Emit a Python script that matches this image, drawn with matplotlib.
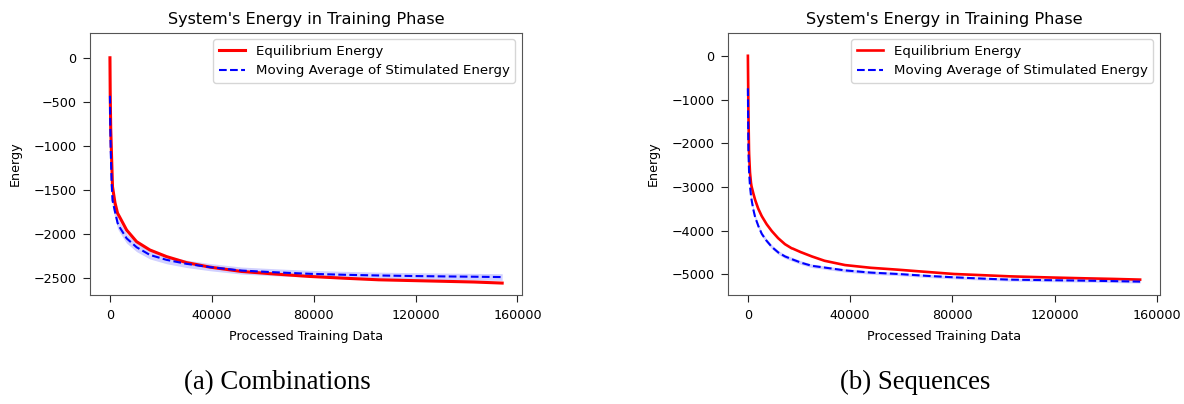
import numpy as np
import matplotlib.pyplot as plt

# values
# (a) Combinations
comb_x = [0, 100, 300, 670, 1000, 1960, 2980, 3920, 6540, 10460, 15670, 22220, 30060,
          39180, 51530, 65000, 78530, 92000, 105530, 119000, 132520, 143000, 154000]
comb_eq = [0, -400, -800, -1150, -1460, -1640, -1760, -1810, -1951, -2083, -2177, -2252, -2320,
           -2371, -2420, -2450, -2477, -2497, -2515, -2524, -2533, -2540, -2552]
comb_ma = [-431, -700, -1050, -1426, -1614, -1740, -1870, -1925, -2045, -2146, -2233, -2289, -2334,
           -2371, -2410, -2430, -2447, -2458, -2466, -2472, -2477, -2480, -2484]
comb_band = [580, 350, 200, 120, 90, 75, 65, 60, 55, 50, 46, 44, 42,
             41, 40, 40, 39, 39, 38, 38, 38, 38, 38]

# (b) Sequences
seq_x = [0, 100, 150, 200, 430, 500, 800, 820, 1210, 1400, 2000, 2110, 2780, 3000, 4000,
         4070, 5400, 5500, 7200, 7360, 9310, 9500, 11800, 11890, 14500, 17140, 17500,
         20800, 21050, 24960, 25000, 30000, 38000, 48000, 58730, 70000, 80590, 92000,
         102440, 117000, 131590, 143000, 153440]
seq_eq = [0, -600, -900, -1250, -2147, -2280, -2650, -2670, -2906, -2980, -3120, -3145, -3286,
          -3325, -3490, -3500, -3666, -3676, -3840, -3855, -4007, -4020, -4170, -4175, -4310,
          -4405, -4410, -4495, -4500, -4589, -4590, -4690, -4788, -4850, -4894, -4945, -4992,
          -5020, -5046, -5070, -5091, -5105, -5121]
seq_ma = [-744, -1500, -1850, -2147, -2600, -2700, -2960, -2983, -3200, -3280, -3480, -3513,
          -3680, -3720, -3880, -3894, -4070, -4080, -4225, -4235, -4370, -4380, -4495, -4500,
          -4590, -4652, -4660, -4733, -4738, -4804, -4805, -4845, -4910, -4960, -4992, -5035,
          -5068, -5098, -5121, -5133, -5144, -5155, -5167]
seq_band = [1000, 500, 350, 250, 130, 110, 90, 88, 75, 70, 62, 60, 56, 55, 52, 52, 50, 50,
            48, 48, 46, 46, 45, 45, 44, 43, 43, 42, 42, 41, 41, 40, 39, 38, 37, 36, 35, 35,
            34, 34, 33, 33, 33]

xticks = [0, 40000, 80000, 120000, 160000]
comb_yticks = [0, -500, -1000, -1500, -2000, -2500]
seq_yticks = [0, -1000, -2000, -3000, -4000, -5000]
captions = ['(a) Combinations', '(b) Sequences']

fs = 9.2
fig = plt.figure(figsize=(11.84, 4.04), dpi=100)
ax1 = fig.add_axes([0.0763, 0.2698, 0.3644, 0.6493])
ax2 = fig.add_axes([0.6151, 0.2698, 0.3644, 0.6493])

panels = [(ax1, comb_x, comb_eq, comb_ma, comb_band, comb_yticks, 2.2),
          (ax2, seq_x, seq_eq, seq_ma, seq_band, seq_yticks, 1.9)]

for ax, x, eq, ma, band, yt, lw in panels:
    x = np.array(x)
    ma = np.array(ma)
    band = np.array(band)
    ax.fill_between(x, ma - band, ma + band, color='blue', alpha=0.18, linewidth=0)
    ax.plot(x, eq, color='red', linewidth=lw, label='Equilibrium Energy')
    ax.plot(x, ma, color='blue', linestyle='--', linewidth=1.5,
            label='Moving Average of Stimulated Energy')
    ax.set_xticks(xticks)
    ax.set_yticks(yt)
    ax.tick_params(labelsize=fs, length=5, pad=5, color='#222222')
    ax.set_title("System's Energy in Training Phase", fontsize=11.6)
    ax.set_xlabel('Processed Training Data', fontsize=fs)
    ax.set_ylabel('Energy', fontsize=fs)
    ax.yaxis.set_label_coords(-0.158, 0.5)
    ax.xaxis.set_label_coords(0.5, -0.135)
    ax.legend(loc='upper right', fontsize=9.6)
    for s in ax.spines.values():
        s.set_color('#555555')

fig.text(0.234, 0.054, captions[0], ha='center', va='center',
         family='Liberation Serif', fontsize=19.3)
fig.text(0.773, 0.054, captions[1], ha='center', va='center',
         family='Liberation Serif', fontsize=19.3)

fig.savefig('out.png', dpi=100)
